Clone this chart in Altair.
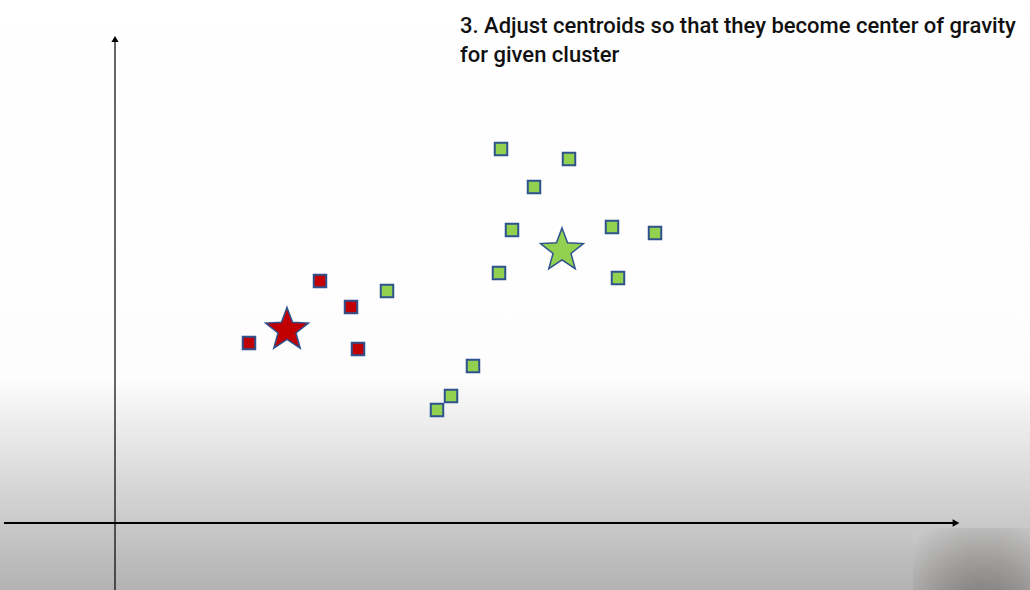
import altair as alt
import pandas as pd

# ---- data (units relative to the drawn origin) ----
red_x = [205, 236, 134, 243]
red_y = [242, 216, 180, 174]
green_x = [272, 386, 454, 419, 397, 497, 540, 384, 503, 358, 336, 322]
green_y = [232, 374, 364, 336, 293, 296, 290, 250, 245, 157, 127, 113]
centroid_x = [172, 447]
centroid_y = [193, 272.5]
centroid_cluster = ["red", "green"]
title_lines = ["3. Adjust centroids so that they become center of gravity",
               "for given cluster"]

X_DOMAIN = [-115, 915]
Y_DOMAIN = [-67, 523]
W, H = 1030, 590

xs = alt.Scale(domain=X_DOMAIN, nice=False, zero=False)
ys = alt.Scale(domain=Y_DOMAIN, nice=False, zero=False)

STAR = ("M0,-1L0.247,-0.340L0.951,-0.309L0.399,0.130L0.588,0.809L0,0.42"
        "L-0.588,0.809L-0.399,0.130L-0.951,-0.309L-0.247,-0.340Z")
OUTLINE = "#2F528F"
RED = "#C00000"
GREEN = "#92D050"

squares = pd.DataFrame({
    "x": red_x + green_x,
    "y": red_y + green_y,
    "cluster": ["red"] * len(red_x) + ["green"] * len(green_x),
})
stars = pd.DataFrame({"x": centroid_x, "y": centroid_y, "cluster": centroid_cluster})

color_scale = alt.Scale(domain=["red", "green"], range=[RED, GREEN])

background = alt.Chart(pd.DataFrame({"a": [0]})).mark_rect(
    color={"gradient": "linear", "x1": 0, "y1": 0, "x2": 0, "y2": 1,
           "stops": [{"offset": 0, "color": "#ffffff"},
                     {"offset": 0.64, "color": "#fdfdfd"},
                     {"offset": 1, "color": "#b2b2b2"}]}
).encode(x=alt.value(0), x2=alt.value(W), y=alt.value(0), y2=alt.value(H))

blob = alt.Chart(pd.DataFrame({"a": [0]})).mark_rect(
    color={"gradient": "radial", "x1": 0.6, "y1": 1.0, "x2": 0.6, "y2": 1.0,
           "r1": 0, "r2": 0.9,
           "stops": [{"offset": 0, "color": "#6a6866"},
                     {"offset": 0.55, "color": "#9a9896"},
                     {"offset": 1, "color": "#c8c8c8"}]},
    opacity=0.85
).encode(x=alt.value(913), x2=alt.value(W), y=alt.value(528), y2=alt.value(H))

vaxis = alt.Chart(pd.DataFrame({"x": [0], "y": [Y_DOMAIN[0]], "y2": [481]})).mark_rule(
    color="black", strokeWidth=1.2
).encode(x=alt.X("x:Q", scale=xs, axis=None),
         y=alt.Y("y:Q", scale=ys, axis=None), y2="y2:Q")

haxis = alt.Chart(pd.DataFrame({"x": [-111], "x2": [839], "y": [0]})).mark_rule(
    color="black", strokeWidth=2
).encode(x=alt.X("x:Q", scale=xs, axis=None), x2="x2:Q",
         y=alt.Y("y:Q", scale=ys, axis=None))

up_arrow = alt.Chart(pd.DataFrame({"x": [0], "y": [484]})).mark_point(
    shape="triangle-up", filled=True, color="black", size=52, opacity=1
).encode(x=alt.X("x:Q", scale=xs, axis=None), y=alt.Y("y:Q", scale=ys, axis=None))

right_arrow = alt.Chart(pd.DataFrame({"x": [841], "y": [0]})).mark_point(
    shape="triangle-right", filled=True, color="black", size=60, opacity=1
).encode(x=alt.X("x:Q", scale=xs, axis=None), y=alt.Y("y:Q", scale=ys, axis=None))

sq = alt.Chart(squares).mark_point(
    shape="square", filled=True, size=156, stroke=OUTLINE, strokeWidth=2, opacity=1
).encode(x=alt.X("x:Q", scale=xs, axis=None),
         y=alt.Y("y:Q", scale=ys, axis=None),
         fill=alt.Fill("cluster:N", scale=color_scale, legend=None))

st = alt.Chart(stars).mark_point(
    shape=STAR, filled=True, size=2025, stroke=OUTLINE, strokeWidth=1.5, opacity=1
).encode(x=alt.X("x:Q", scale=xs, axis=None),
         y=alt.Y("y:Q", scale=ys, axis=None),
         fill=alt.Fill("cluster:N", scale=color_scale, legend=None))

t1 = alt.Chart(pd.DataFrame({"t": [title_lines[0]]})).mark_text(
    align="left", baseline="alphabetic", font="Roboto", fontSize=22,
    fontWeight=500, color="#111111"
).encode(text="t:N", x=alt.value(460), y=alt.value(33))

t2 = alt.Chart(pd.DataFrame({"t": [title_lines[1]]})).mark_text(
    align="left", baseline="alphabetic", font="Roboto", fontSize=22,
    fontWeight=500, color="#111111"
).encode(text="t:N", x=alt.value(460), y=alt.value(62))

chart = alt.layer(background, blob, vaxis, haxis, up_arrow, right_arrow, sq, st, t1, t2).properties(
    width=W, height=H, padding=0, autosize=alt.AutoSizeParams(type="none"),
    background="white"
).configure_view(strokeWidth=0)

chart.save("out.html", embed_options={"renderer": "svg", "actions": False})
